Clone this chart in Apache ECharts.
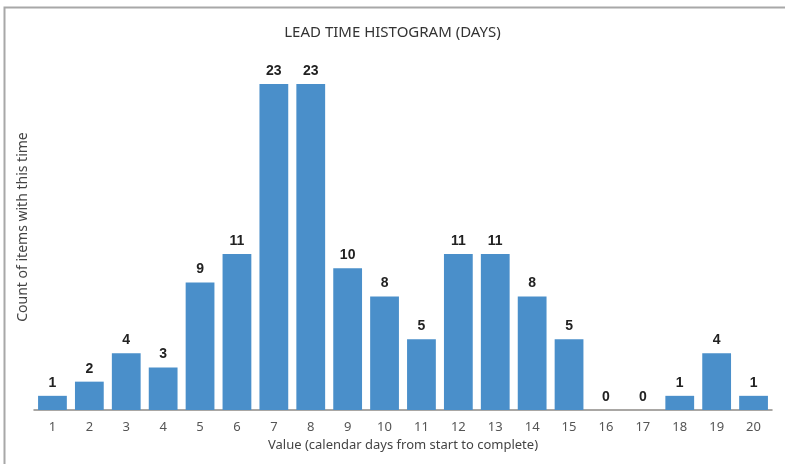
<!DOCTYPE html>
<html>
<head>
<meta charset="utf-8">
<script src="https://cdn.jsdelivr.net/npm/echarts@6/dist/echarts.min.js"></script>
<style>
  html, body { margin: 0; padding: 0; background: #fff; }
  #main { width: 785px; height: 464px; }
</style>
</head>
<body>
<div id="main"></div>
<script>
// lead time in days, and how many items took that long
const days = ['1', '2', '3', '4', '5', '6', '7', '8', '9', '10',
  '11', '12', '13', '14', '15', '16', '17', '18', '19', '20']
const counts = [1, 2, 4, 3, 9, 11, 23, 23, 10, 8, 5, 11, 11, 8, 5, 0, 0, 1, 4, 1]

let chartDom = document.getElementById('main')
let myChart = echarts.init(chartDom)
let option

option = {
  backgroundColor: '#fff',
  animation: false,
  title: {
    text: 'LEAD TIME HISTOGRAM (DAYS)',
    left: 'center',
    top: 20,
    textStyle: {
      fontFamily: 'Noto Sans',
      fontSize: 15,
      fontWeight: 'normal',
      color: '#333'
    }
  },
  graphic: [
    {
      type: 'polyline',
      shape: { points: [[4.5, 464], [4.5, 7.5], [785, 7.5]] },
      style: { stroke: '#a8a8a8', lineWidth: 2, fill: null }
    }
  ],
  grid: {
    left: 34,
    right: 13,
    top: 84,
    bottom: 54
  },
  xAxis: {
    type: 'category',
    data: days,
    name: 'Value (calendar days from start to complete)',
    nameLocation: 'middle',
    nameGap: 27,
    nameTextStyle: {
      fontFamily: 'Noto Sans',
      fontSize: 13,
      color: '#444'
    },
    axisLine: { lineStyle: { color: '#8d8a86', width: 1.5 } },
    axisTick: { show: false },
    axisLabel: {
      margin: 11,
      fontFamily: 'Noto Sans',
      fontSize: 13,
      color: '#555'
    }
  },
  yAxis: {
    type: 'value',
    min: 0,
    max: 23,
    name: 'Count of items with this time',
    nameLocation: 'middle',
    nameGap: 4,
    nameTextStyle: {
      fontFamily: 'Noto Sans',
      fontSize: 14,
      color: '#444',
      padding: [0, 0, 0, 40]
    },
    axisLine: { show: false },
    axisTick: { show: false },
    axisLabel: { show: false },
    splitLine: { show: false }
  },
  series: [
    {
      type: 'bar',
      data: counts,
      barCategoryGap: '22%',
      itemStyle: { color: '#4a8fca' },
      label: {
        show: true,
        position: 'top',
        distance: 6,
        fontFamily: 'Liberation Sans',
        fontSize: 14,
        fontWeight: 'bold',
        color: '#222'
      }
    }
  ]
}

option && myChart.setOption(option)
</script>
</body>
</html>
